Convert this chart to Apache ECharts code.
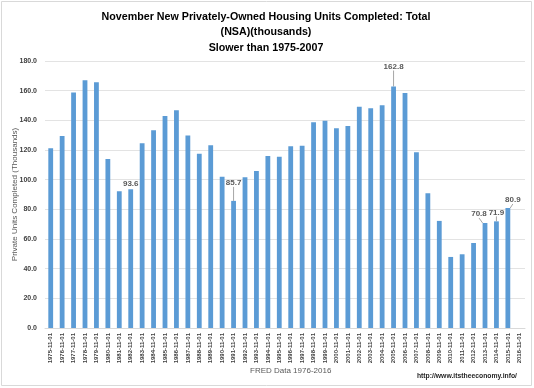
<!DOCTYPE html>
<html><head><meta charset="utf-8">
<script src="https://cdn.jsdelivr.net/npm/echarts@6/dist/echarts.min.js"></script>
<style>html,body{margin:0;padding:0;background:#fff}#c{width:534px;height:388px}</style>
</head><body><div id="c"></div>
<script>
const categories = ['1975-11-01','1976-11-01','1977-11-01','1978-11-01','1979-11-01','1980-11-01','1981-11-01','1982-11-01','1983-11-01','1984-11-01','1985-11-01','1986-11-01','1987-11-01','1988-11-01','1989-11-01','1990-11-01','1991-11-01','1992-11-01','1993-11-01','1994-11-01','1995-11-01','1996-11-01','1997-11-01','1998-11-01','1999-11-01','2000-11-01','2001-11-01','2002-11-01','2003-11-01','2004-11-01','2005-11-01','2006-11-01','2007-11-01','2008-11-01','2009-11-01','2010-11-01','2011-11-01','2012-11-01','2013-11-01','2014-11-01','2015-11-01','2016-11-01'];
const completed = [121.2,129.5,158.7,167.0,165.6,114.0,92.2,93.6,124.5,133.3,143.0,146.8,129.7,117.5,123.2,102.0,85.7,101.6,105.9,116.0,115.5,122.5,122.9,138.7,139.8,134.6,136.2,149.2,148.1,150.2,162.8,158.5,118.5,90.8,72.2,47.9,49.7,57.3,70.8,71.9,80.9,null];
const labeledYears = ['1982-11-01','1991-11-01','2005-11-01','2013-11-01','2014-11-01','2015-11-01'];
const yTicks = [0,20,40,60,80,100,120,140,160,180];

const labelShift = {
  '1991-11-01': [0,-13],
  '2005-11-01': [0,-15],
  '2013-11-01': [-6,-4],
  '2014-11-01': [0,-4],
  '2015-11-01': [5,-3]
};

const data = completed.map((v,i)=>{
  const d = {value:v};
  const c = categories[i];
  if (labeledYears.includes(c)) {
    d.label = {show:true, position:'top', distance:1, color:'#595959', fontSize:8, fontWeight:'bold', fontFamily:'Liberation Sans', formatter: p => p.value.toFixed(1)};
    if (labelShift[c]) d.labelLine = {show:true, lineStyle:{color:'#a6a6a6', width:1}};
  }
  return d;
});

const chart = echarts.init(document.getElementById('c'), null, {renderer:'canvas'});
chart.setOption({
  animation:false,
  backgroundColor:'#fff',
  title:{
    text:'November New Privately-Owned Housing Units Completed: Total\n(NSA)(thousands)\nSlower than 1975-2007',
    left:261, textAlign:'center', top:4,
    textStyle:{fontFamily:'Liberation Sans', fontWeight:'bold', fontSize:10.7, lineHeight:15.5, color:'#000'}
  },
  graphic:[
    {type:'rect', shape:{x:1.5,y:1.5,width:530,height:384}, style:{fill:null, stroke:'#d9d9d9', lineWidth:1}, silent:true, z:-1},
    {type:'text', left:250, top:367, style:{text:'FRED Data 1976-2016', fontSize:8, fontFamily:'Liberation Sans', fill:'#595959'}},
    {type:'text', right:17, top:373, style:{text:'http://www.itstheeconomy.info/', fontSize:6.8, fontWeight:'bold', fontFamily:'Liberation Sans', fill:'#262626'}}
  ],
  grid:{left:45, right:9, top:61, bottom:60, outerBoundsMode:'none', containLabel:false},
  xAxis:{
    type:'category', data:categories,
    axisTick:{show:false},
    axisLine:{lineStyle:{color:'#d9d9d9'}},
    axisLabel:{rotate:90, interval:0, fontSize:6, fontWeight:'bold', color:'#404040', fontFamily:'Liberation Sans', margin:5}
  },
  yAxis:{
    type:'value', min:0, max:180, interval:20,
    name:'Private Units Completed (Thousands)', nameLocation:'middle', nameGap:26, nameRotate:90, nameMoveOverlap:false,
    nameTextStyle:{fontSize:8, color:'#595959', fontFamily:'Liberation Sans'},
    axisLine:{show:false}, axisTick:{show:false},
    splitLine:{lineStyle:{color:'#e3e3e3'}},
    axisLabel:{formatter: v => yTicks.includes(v) ? v.toFixed(1) : '', fontSize:7, fontWeight:'bold', color:'#404040', fontFamily:'Liberation Sans', margin:8}
  },
  series:[{
    type:'bar', data:data, barWidth:'42%',
    itemStyle:{color:'#5b9bd5'},
    labelLayout: function(p){
      const c = categories[p.dataIndex];
      const s = labelShift[c];
      if (!s) return {};
      return {dx:s[0], dy:s[1]};
    }
  }]
});
</script></body></html>
